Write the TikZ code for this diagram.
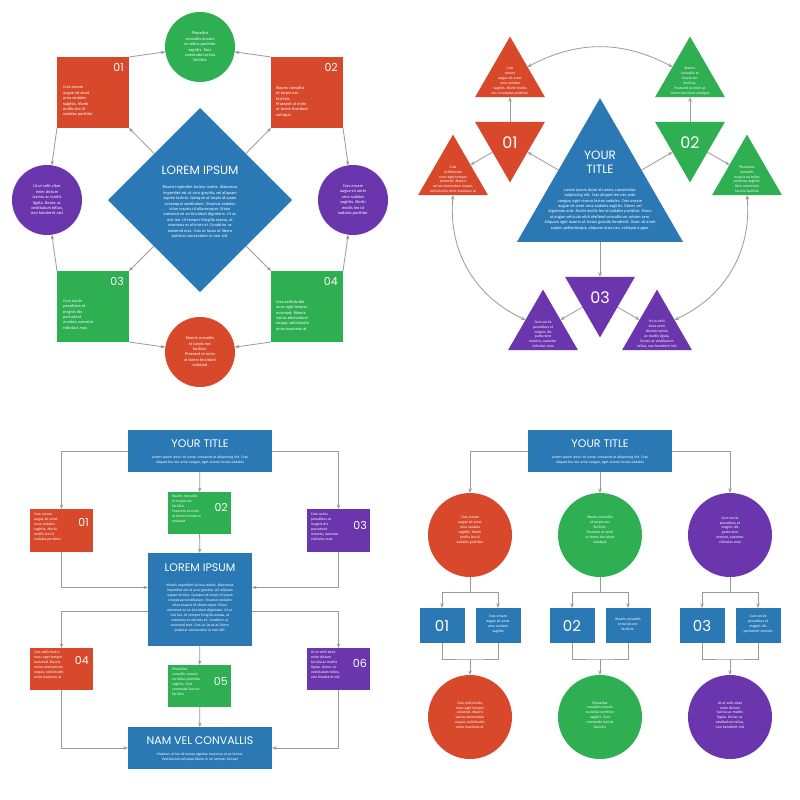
\documentclass[tikz,border=0pt]{standalone}
\usepackage{fontspec}
\setmainfont{Fira Sans}
\newfontfamily\ttlf{Poppins}
\usetikzlibrary{shapes.geometric,arrows.meta}
\definecolor{orc}{HTML}{D8482A}
\definecolor{gnc}{HTML}{2DAF52}
\definecolor{puc}{HTML}{6B35AE}
\definecolor{blc}{HTML}{2A79B5}
\definecolor{grc}{HTML}{9A9A9A}
\newcommand\smtx{\fontsize{3.9}{5.4}\selectfont}
\newcommand\tnytx{\fontsize{3.5}{4.9}\selectfont}
\tikzset{
 arr/.style={draw=grc,line width=0.8pt,-{Stealth[length=4.5pt,width=3.5pt]}},
 dbl/.style={draw=grc,line width=0.8pt,{Stealth[length=4.5pt,width=3.5pt]}-{Stealth[length=4.5pt,width=3.5pt]}},
 ln/.style={draw=grc,line width=0.8pt},
 boxs/.style={rectangle,inner sep=0,outer sep=0,minimum width=#1},
 circ/.style={circle,fill=#1,inner sep=0,outer sep=0,minimum size=70pt},
 bigc/.style={circle,fill=#1,inner sep=0,outer sep=0,minimum size=84pt},
 wt/.style={text=white,font=\smtx,align=center,inner sep=0},
 wl/.style={text=white,font=\smtx,align=left,inner sep=0},
 num/.style={text=white,font=\ttlf\fontsize{11}{11}\selectfont,inner sep=0},
 ttl/.style={text=white,font=\ttlf\fontsize{11}{12}\selectfont,inner sep=0,align=center},
 utri/.style={regular polygon,regular polygon sides=3,fill=#1,minimum size=80.8pt,inner sep=0,outer sep=0},
 dtri/.style={utri=#1,shape border rotate=180},
}
\begin{document}
\begin{tikzpicture}[x=1pt,y=-1pt]
\useasboundingbox (0,0) rectangle (800,800);
\fill[white] (0,0) rectangle (800,800);
% ================= Q1
\node[diamond,fill=blc,minimum width=184pt,minimum height=184pt,aspect=1,inner sep=0,outer sep=0] (dia) at (200,200) {};
\node[ttl,font=\ttlf\fontsize{12}{12}\selectfont] (diat) at (200,170) {LOREM IPSUM};
\node[wt] (diap) at (200,212) {Mauris imperdiet lacinia mattis. Maecenas\\imperdiet est ut arcu gravida, vel aliquam\\sapien lacinia. Quisque at turpis id quam\\consequat vestibulum. Vivamus sodales\\vitae mauris id ullamcorper. Etiam\\euismod mi eu tincidunt dignissim. Ut ac\\nisi leo. Ut tempor fringilla massa, ut\\maximus ex ultrices et. Curabitur ac\\euismod erat. Cras ac lacus at libero\\pulvinar consectetur in non elit.};
\node[circ=gnc] (gtop) at (200,47) {};
\node[wt] (gtopt) at (200,47) {Phasellus\\convallis mauris\\eu tellus porttitor\\sagittis. Duis\\commodo lacinia\\facilisis};
\node[circ=puc] (pl) at (47,200) {};
\node[wt] (plt) at (47,200) {Ut ut velit vitae\\enim dictum\\lacinia ac mattis\\ligula. Donec ac\\vestibulum tellus,\\non hendrerit nisl};
\node[circ=puc] (pr) at (353,200) {};
\node[wt] (prt) at (353,200) {Cras ornare\\augue sit amet\\urna sodales\\sagittis. Morbi\\mollis leo id\\sodales porttitor};
\node[circ=orc] (obot) at (200,352) {};
\node[wt] (obott) at (200,352) {Mauris convallis\\et turpis nec\\facilisis.\\Praesent ut enim\\at lorem tincidunt\\volutpat};
\node[boxs=72pt,minimum height=71pt,fill=orc] (b1) at (93,92.5) {};
\node[num,anchor=north east] (b1n) at (124,63) {01};
\node[wl,anchor=north west] (b1t) at (63,86) {Cras ornare\\augue sit amet\\urna sodales\\sagittis. Morbi\\mollis leo id\\sodales porttitor};
\node[boxs=72pt,minimum height=71pt,fill=orc] (b2) at (307,92.5) {};
\node[num,anchor=north east] (b2n) at (338,63) {02};
\node[wl,anchor=north west] (b2t) at (276,86) {Mauris convallis\\et turpis nec\\facilisis.\\Praesent ut enim\\at lorem tincidunt\\volutpat};
\node[boxs=72pt,minimum height=71pt,fill=gnc] (b3) at (93,306.5) {};
\node[num,anchor=north east] (b3n) at (124,277) {03};
\node[wl,anchor=north west] (b3t) at (63,299) {Cum sociis\\penatibus et\\magnis dis\\parturient\\montes, nascetur\\ridiculus mus};
\node[boxs=72pt,minimum height=71pt,fill=gnc] (b4) at (307,306.5) {};
\node[num,anchor=north east] (b4n) at (338,277) {04};
\node[wl,anchor=north west] (b4t) at (276,300) {Cras sollicitudin\\nunc eget tempor\\euismod. Mauris\\varius elementum\\neque, sollicitudin\\enim maximus at};
\draw[arr] (b1.north east) -- (gtop);
\draw[arr] (b2.north west) -- (gtop);
\draw[arr] (b1.south west) -- (pl);
\draw[arr] (b3.north west) -- (pl);
\draw[arr] (b2.south east) -- (pr);
\draw[arr] (b4.north east) -- (pr);
\draw[arr] (b3.south east) -- (obot);
\draw[arr] (b4.south west) -- (obot);
\draw[arr] (dia) -- (b1.south east);
\draw[arr] (dia) -- (b2.south west);
\draw[arr] (dia) -- (b3.north east);
\draw[arr] (dia) -- (b4.north west);
% ================= Q2
\node[utri=blc,minimum size=191.7pt] (big) at (600,194) {};
\node[ttl,font=\ttlf\fontsize{12}{14}\selectfont] (bigt) at (600,162) {YOUR\\TITLE};
\node[wt] (bigp) at (600,209) {Lorem ipsum dolor sit amet, consectetur\\adipiscing elit. Cras aliquet leo nec ante\\congue, eget viverra lectus sodales. Cras ornare\\augue sit amet urna sodales sagittis. Donec vel\\dignissim erat. Morbi mollis leo id sodales porttitor. Etiam\\at augue vehicula nibh eleifend convallis eu rutrum sem.\\Aliquam eget mauris at lectus gravida hendrerit. Nunc sit amet\\sapien pellentesque, aliquam urna nec, volutpat augue.};
\node[dtri=orc] (i01) at (510,142) {};
\node[num,font=\ttlf\fontsize{16}{16}\selectfont] (i01t) at (510,143) {01};
\node[dtri=gnc] (i02) at (690,142) {};
\node[num,font=\ttlf\fontsize{16}{16}\selectfont] (i02t) at (690,143) {02};
\node[dtri=puc] (i03) at (600,297) {};
\node[num,font=\ttlf\fontsize{16}{16}\selectfont] (i03t) at (600,298) {03};
\node[utri=orc] (ttl1) at (510,77) {};
\node[wt,font=\tnytx,anchor=south] (ttl1t) at (510,95) {Cras\\ornare\\augue sit amet\\urna sodales\\sagittis. Morbi mollis\\leo id sodales porttitor};
\node[utri=orc] (tl) at (453,175) {};
\node[wt,font=\tnytx,anchor=south] (tlt) at (453,193) {Cras\\sollicitudin\\nunc eget tempor\\euismod. Mauris\\varius elementum neque,\\sollicitudin enim maximus at};
\node[utri=gnc] (ttr) at (690,77) {};
\node[wt,font=\tnytx,anchor=south] (ttrt) at (690,95) {Mauris\\convallis et\\turpis nec\\facilisis.\\Praesent ut enim at\\lorem tincidunt volutpat};
\node[utri=gnc] (tr) at (747,175) {};
\node[wt,font=\tnytx,anchor=south] (trt) at (747,193) {Phasellus\\convallis\\mauris eu tellus\\porttitor sagittis.\\Duis commodo\\lacinia facilisis};
\node[utri=puc] (tbl) at (543,330) {};
\node[wt,font=\tnytx,anchor=south] (tblt) at (543,348) {Cum sociis\\penatibus et\\magnis dis\\parturient\\montes, nascetur\\ridiculus mus};
\node[utri=puc] (tbr) at (657,330) {};
\node[wt,font=\tnytx,anchor=south] (tbrt) at (657,348) {Ut ut velit\\vitae enim\\dictum lacinia\\ac mattis ligula.\\Donec ac vestibulum\\tellus, non hendrerit nisl};
\draw[arr] (big) -- (i01);
\draw[arr] (big) -- (i02);
\draw[arr] (big) -- (i03);
\draw[arr] (i01) -- (ttl1);
\draw[arr] (i01) -- (tl);
\draw[arr] (i02) -- (ttr);
\draw[arr] (i02) -- (tr);
\draw[arr] (i03) -- (tbl);
\draw[arr] (i03) -- (tbr);
\draw[dbl] (ttl1.side 3) to[bend left=28] (ttr.side 1);
\draw[dbl] (tl.side 2) to[bend right=35] (tbl.side 1);
\draw[dbl] (tr.side 2) to[bend left=35] (tbr.side 3);
% ================= Q3
\node[boxs=144pt,minimum height=42pt,fill=blc] (y3) at (200,451) {};
\node[ttl] (y3t) at (200,444) {YOUR TITLE};
\node[wt,font=\tnytx] (y3p) at (200,460) {Lorem ipsum dolor sit amet, consectetur adipiscing elit. Cras\\aliquet leo nec ante congue, eget viverra lectus sodales};
\node[boxs=63pt,minimum height=43pt,fill=orc] (c01) at (61.5,530.5) {};
\node[num,anchor=east] (c01n) at (89,522) {01};
\node[wl,font=\tnytx,anchor=north west] (c01t) at (34,513) {Cras ornare\\augue sit amet\\urna sodales\\sagittis. Morbi\\mollis leo id\\sodales porttitor};
\node[boxs=63pt,minimum height=42pt,fill=gnc] (c02) at (199.5,513) {};
\node[num,anchor=east] (c02n) at (228,507) {02};
\node[wl,font=\tnytx,anchor=north west] (c02t) at (172,495) {Mauris convallis\\et turpis nec\\facilisis.\\Praesent ut enim\\at lorem tincidunt\\volutpat};
\node[boxs=63pt,minimum height=43pt,fill=puc] (c03) at (338.5,530.5) {};
\node[num,anchor=east] (c03n) at (367,525) {03};
\node[wl,font=\tnytx,anchor=north west] (c03t) at (311,513) {Cum sociis\\penatibus et\\magnis dis\\parturient\\montes, nascetur\\ridiculus mus};
\node[boxs=104pt,minimum height=93pt,fill=blc] (lor) at (200,599.5) {};
\node[ttl] (lort) at (200,568) {LOREM IPSUM};
\node[wt,font=\tnytx] (lorp) at (200,608) {Mauris imperdiet lacinia mattis. Maecenas\\imperdiet est ut arcu gravida, vel aliquam\\sapien lacinia. Quisque at turpis id quam\\consequat vestibulum. Vivamus sodales\\vitae mauris id ullamcorper. Etiam\\euismod mi eu tincidunt dignissim. Ut ac\\nisi leo. Ut tempor fringilla massa, ut\\maximus ex ultrices et. Curabitur ac\\euismod erat. Cras ac lacus at libero\\pulvinar consectetur in non elit.};
\node[boxs=63pt,minimum height=42pt,fill=orc] (c04) at (61.5,669) {};
\node[num,anchor=east] (c04n) at (89,660) {04};
\node[wl,font=\tnytx,anchor=north west] (c04t) at (34,651) {Cras sollicitudin\\nunc eget tempor\\euismod. Mauris\\varius elementum\\neque, sollicitudin\\enim maximus at};
\node[boxs=63pt,minimum height=42pt,fill=gnc] (c05) at (199.5,686) {};
\node[num,anchor=east] (c05n) at (228,681) {05};
\node[wl,font=\tnytx,anchor=north west] (c05t) at (172,668) {Phasellus\\convallis mauris\\eu tellus porttitor\\sagittis. Duis\\commodo lacinia\\facilisis};
\node[boxs=63pt,minimum height=42pt,fill=puc] (c06) at (338.5,669) {};
\node[num,anchor=east] (c06n) at (367,663) {06};
\node[wl,font=\tnytx,anchor=north west] (c06t) at (311,651) {Ut ut velit vitae\\enim dictum\\lacinia ac mattis\\ligula. Donec ac\\vestibulum tellus,\\non hendrerit nisl};
\node[boxs=144pt,minimum height=42pt,fill=blc] (nam) at (200,748) {};
\node[ttl] (namt) at (200,741) {NAM VEL CONVALLIS};
\node[wt,font=\tnytx] (namp) at (200,757) {Vivamus ut leo id massa egestas maximus at ac lectus.\\Vestibulum volutpat libero in mi semper aliquet};
\draw[arr] (y3.west) -| (c01.north);
\draw[arr] (y3.east) -| (c03.north);
\draw[arr] (y3) -- (c02);
\draw[arr] (c02) -- (lor);
\draw[arr] (c01.south) |- ([yshift=12pt]lor.west);
\draw[arr] (c03.south) |- ([yshift=12pt]lor.east);
\draw[arr] ([yshift=-12pt]lor.west) -| (c04.north);
\draw[arr] ([yshift=-12pt]lor.east) -| (c06.north);
\draw[arr] (lor) -- (c05);
\draw[arr] (c05) -- (nam);
\draw[arr] (c04.south) |- (nam.west);
\draw[arr] (c06.south) |- (nam.east);
% ================= Q4
\node[boxs=144pt,minimum height=42pt,fill=blc] (y4) at (600,451) {};
\node[ttl] (y4t) at (600,444) {YOUR TITLE};
\node[wt,font=\tnytx] (y4p) at (600,460) {Lorem ipsum dolor sit amet, consectetur adipiscing elit. Cras\\aliquet leo nec ante congue, eget viverra lectus sodales};
\node[bigc=orc] (ca1) at (470,535) {};
\node[wt,font=\tnytx] (ca1t) at (470,530) {Cras ornare\\augue sit amet\\urna sodales\\sagittis. Morbi\\mollis leo id\\sodales porttitor};
\node[bigc=gnc] (ca2) at (600,535) {};
\node[wt,font=\tnytx] (ca2t) at (600,530) {Mauris convallis\\et turpis nec\\facilisis.\\Praesent ut enim\\at lorem tincidunt\\volutpat};
\node[bigc=puc] (ca3) at (730,535) {};
\node[wt,font=\tnytx] (ca3t) at (730,530) {Cum sociis\\penatibus et\\magnis dis\\parturient\\montes, nascetur\\ridiculus mus};
\draw[arr] (y4.west) -| (ca1);
\draw[arr] (y4) -- (ca2);
\draw[arr] (y4.east) -| (ca3);
\foreach \i/\cx/\ct in {1/470/{Cras ornare\\augue sit amet\\urna sodales\\sagittis},2/600/{Mauris convallis\\et turpis nec\\facilisis.},3/730/{Cum sociis\\penatibus et\\magnis dis\\parturient montes}}{
 \node[boxs=45pt,minimum height=35pt,fill=blc] (sq\i) at (\cx-28,625.5) {};
 \node[num,font=\ttlf\fontsize{15}{15}\selectfont] (sq\i n) at (\cx-28,626) {0\i};
 \node[boxs=45pt,minimum height=35pt,fill=blc] (tx\i) at (\cx+28,625.5) {};
 \node[wt,font=\tnytx] (tx\i t) at (\cx+28,624) {\ct};
 \coordinate (ja\i) at (\cx,592);
 \coordinate (ka\i) at (\cx,659);
}
\node[bigc=orc] (cb1) at (470,717) {};
\node[wt,font=\tnytx] (cb1t) at (470,715) {Cras sollicitudin\\nunc eget tempor\\euismod. Mauris\\varius elementum\\neque, sollicitudin\\enim maximus at};
\node[bigc=gnc] (cb2) at (600,717) {};
\node[wt,font=\tnytx] (cb2t) at (600,715) {Phasellus\\convallis mauris\\eu tellus porttitor\\sagittis. Duis\\commodo lacinia\\facilisis};
\node[bigc=puc] (cb3) at (730,717) {};
\node[wt,font=\tnytx] (cb3t) at (730,715) {Ut ut velit vitae\\enim dictum\\lacinia ac mattis\\ligula. Donec ac\\vestibulum tellus,\\non hendrerit nisl};
\foreach \i in {1,2,3}{
 \draw[ln] (ca\i) -- (ja\i);
 \draw[arr] (ja\i) -| (sq\i.north);
 \draw[arr] (ja\i) -| (tx\i.north);
 \draw[ln] (sq\i.south) |- (ka\i) -| (tx\i.south);
 \draw[arr] (ka\i) -- (cb\i);
}
\end{tikzpicture}
\end{document}
